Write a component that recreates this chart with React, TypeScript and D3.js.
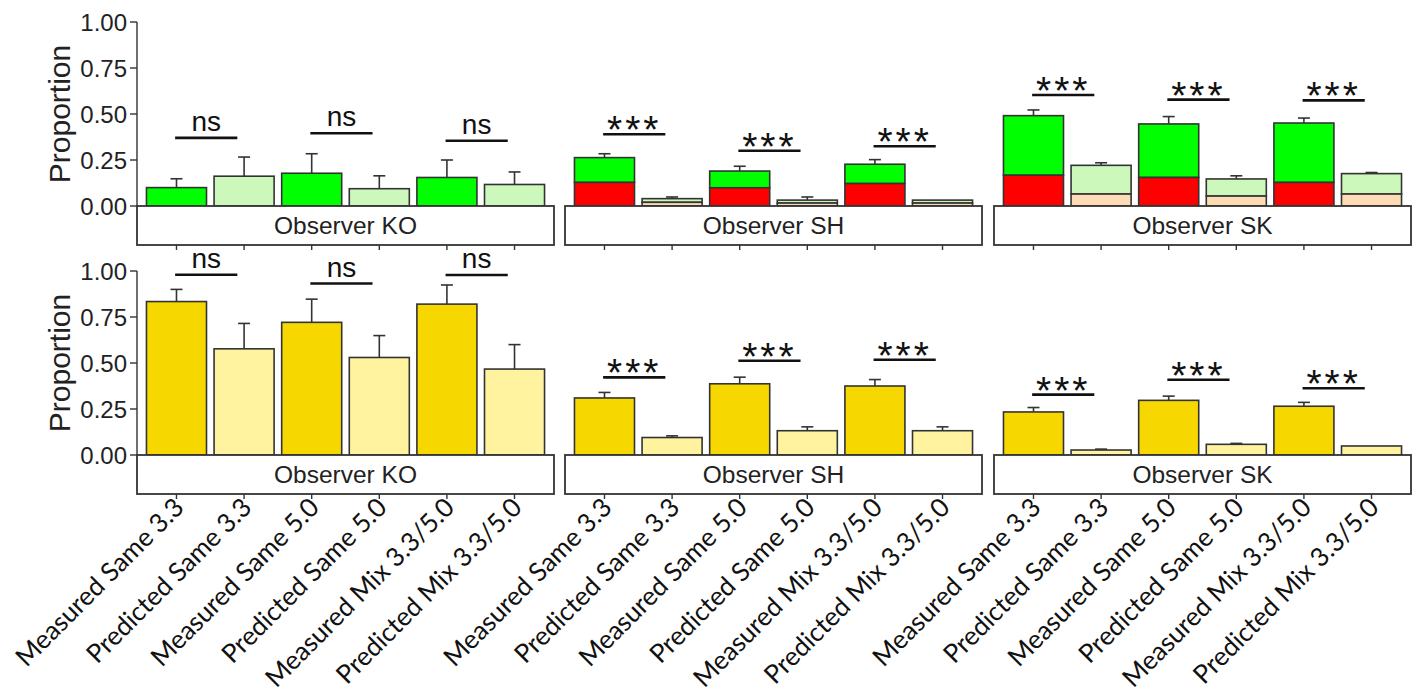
import React from "react";
import * as d3 from "d3";

const categories = [
  "Measured Same 3.3",
  "Predicted Same 3.3",
  "Measured Same 5.0",
  "Predicted Same 5.0",
  "Measured Mix 3.3/5.0",
  "Predicted Mix 3.3/5.0",
];
const observers = ["Observer KO", "Observer SH", "Observer SK"];
const yTicks = [0, 0.25, 0.5, 0.75, 1];

// Top row: stacked bars (lower segment red/peach, total green/light green)
const topLower = [
  [0, 0, 0, 0, 0, 0],
  [0.128, 0.02, 0.099, 0.016, 0.122, 0.016],
  [0.167, 0.065, 0.155, 0.054, 0.128, 0.065],
];
const topTotal = [
  [0.1, 0.162, 0.178, 0.094, 0.155, 0.117],
  [0.263, 0.04, 0.19, 0.032, 0.227, 0.032],
  [0.491, 0.221, 0.446, 0.147, 0.451, 0.176],
];
const topErr = [
  [0.148, 0.266, 0.284, 0.164, 0.25, 0.185],
  [0.284, 0.049, 0.216, 0.049, 0.252, null],
  [0.522, 0.235, 0.486, 0.164, 0.478, 0.182],
];
const topSigLabel = ["ns", "***", "***"];
const topSigY = [
  [0.37, 0.395, 0.355],
  [0.39, 0.3, 0.325],
  [0.603, 0.578, 0.574],
];

// Bottom row
const botValue = [
  [0.834, 0.577, 0.721, 0.53, 0.82, 0.467],
  [0.31, 0.095, 0.387, 0.132, 0.375, 0.132],
  [0.234, 0.027, 0.297, 0.058, 0.265, 0.049],
];
const botErr = [
  [0.9, 0.715, 0.847, 0.649, 0.924, 0.6],
  [0.34, 0.104, 0.423, 0.153, 0.41, 0.153],
  [0.258, 0.032, 0.32, 0.063, 0.286, null],
];
const botSigLabel = ["ns", "***", "***"];
const botSigY = [
  [0.98, 0.932, 0.978],
  [0.422, 0.512, 0.518],
  [0.328, 0.409, 0.363],
];

const W = 1418;
const H = 698;
const panelLefts = [137, 565, 994];
const panelWidth = 417;
const rows = [
  { y0: 206, y1: 22 },
  { y0: 455, y1: 271 },
];
const stripH = 39;
const STROKE = "#333";
const AX = "Liberation Sans, Arial, sans-serif";

export default function App() {
  const yScales = rows.map((r) =>
    d3.scaleLinear().domain([0, 1]).range([r.y0, r.y1])
  );
  const xScales = panelLefts.map((l) =>
    d3
      .scaleBand<string>()
      .domain(categories)
      .range([l, l + panelWidth])
      .paddingInner(0.112)
      .paddingOuter(0.14)
  );

  const errBar = (x: number, yTop: number, yEnd: number, key: string) => (
    <g key={key} stroke={STROKE} strokeWidth={1.6}>
      <line x1={x} x2={x} y1={yTop} y2={yEnd} />
      <line x1={x - 6} x2={x + 6} y1={yEnd} y2={yEnd} />
    </g>
  );

  const sig = (
    xs: d3.ScaleBand<string>,
    y: d3.ScaleLinear<number, number>,
    label: string,
    vals: number[],
    key: string
  ) =>
    vals.map((v, k) => {
      const c1 = xs(categories[2 * k])! + xs.bandwidth() / 2;
      const c2 = xs(categories[2 * k + 1])! + xs.bandwidth() / 2;
      const step = xs.step();
      const xa = c1 - 0.02 * step;
      const xb = c2 - 0.1 * step;
      const yy = y(v);
      const isStar = label !== "ns";
      return (
        <g key={key + k}>
          <line x1={xa} x2={xb} y1={yy} y2={yy} stroke="#111" strokeWidth={2.6} />
          <text
            x={(xa + xb) / 2}
            y={isStar ? yy + 9 : yy - 7}
            textAnchor="middle"
            fontFamily={AX}
            fontSize={isStar ? 39 : 28}
            letterSpacing={isStar ? 3 : 0}
            fill="#111"
          >
            {label}
          </text>
        </g>
      );
    });

  const strip = (p: number, r: number) => {
    const l = panelLefts[p];
    const y0 = rows[r].y0;
    const xs = xScales[p];
    return (
      <g key={`strip${p}${r}`}>
        <rect
          x={l}
          y={y0}
          width={panelWidth}
          height={stripH}
          fill="#fff"
          stroke={STROKE}
          strokeWidth={1.8}
        />
        <text
          x={l + panelWidth / 2}
          y={y0 + stripH / 2 + 8.5}
          textAnchor="middle"
          fontFamily={AX}
          fontSize={24.5}
          fill="#222"
        >
          {observers[p]}
        </text>
        {categories.map((c) => {
          const cx = xs(c)! + xs.bandwidth() / 2;
          return (
            <line
              key={c}
              x1={cx}
              x2={cx}
              y1={y0 + stripH}
              y2={y0 + stripH + 5}
              stroke={STROKE}
              strokeWidth={1.4}
            />
          );
        })}
      </g>
    );
  };

  const yAxis = (r: number) => {
    const y = yScales[r];
    const x = panelLefts[0];
    return (
      <g key={`yaxis${r}`}>
        <line x1={x} x2={x} y1={y(1)} y2={y(0)} stroke={STROKE} strokeWidth={1.4} />
        {yTicks.map((t) => (
          <g key={t}>
            <line x1={x - 7} x2={x} y1={y(t)} y2={y(t)} stroke={STROKE} strokeWidth={1.4} />
            <text
              x={x - 10}
              y={y(t) + 8.5}
              textAnchor="end"
              fontFamily={AX}
              fontSize={24}
              fill="#222"
            >
              {d3.format(".2f")(t)}
            </text>
          </g>
        ))}
        <text
          transform={`translate(${70},${(y(0) + y(1)) / 2}) rotate(-90)`}
          textAnchor="middle"
          fontFamily={AX}
          fontSize={30}
          fill="#222"
        >
          Proportion
        </text>
      </g>
    );
  };

  return (
    <svg width={W} height={H} style={{ position: "absolute", left: 0, top: 0 }}>
      <rect width={W} height={H} fill="#fff" />
      {/* top row */}
      {observers.map((o, p) => {
        const xs = xScales[p];
        const y = yScales[0];
        return (
          <g key={`top${p}`}>
            {categories.map((c, i) => {
              const x = xs(c)!;
              const w = xs.bandwidth();
              const meas = i % 2 === 0;
              const lower = topLower[p][i];
              const total = topTotal[p][i];
              const e = topErr[p][i];
              return (
                <g key={c}>
                  {e !== null && errBar(x + w / 2, y(total), y(e), "e")}
                  <rect
                    x={x}
                    y={y(total)}
                    width={w}
                    height={y(lower) - y(total)}
                    fill={meas ? "#00ff00" : "#ccf8bc"}
                    stroke={STROKE}
                    strokeWidth={1.6}
                  />
                  {lower > 0 && (
                    <rect
                      x={x}
                      y={y(lower)}
                      width={w}
                      height={y(0) - y(lower)}
                      fill={meas ? "#ff0000" : "#fddcb5"}
                      stroke={STROKE}
                      strokeWidth={1.6}
                    />
                  )}
                </g>
              );
            })}
            {sig(xs, y, topSigLabel[p], topSigY[p], `ts${p}`)}
            {strip(p, 0)}
          </g>
        );
      })}
      {/* bottom row */}
      {observers.map((o, p) => {
        const xs = xScales[p];
        const y = yScales[1];
        return (
          <g key={`bot${p}`}>
            {categories.map((c, i) => {
              const x = xs(c)!;
              const w = xs.bandwidth();
              const meas = i % 2 === 0;
              const v = botValue[p][i];
              const e = botErr[p][i];
              return (
                <g key={c}>
                  {e !== null && errBar(x + w / 2, y(v), y(e), "e")}
                  <rect
                    x={x}
                    y={y(v)}
                    width={w}
                    height={y(0) - y(v)}
                    fill={meas ? "#f6d800" : "#fff3a0"}
                    stroke={STROKE}
                    strokeWidth={1.6}
                  />
                </g>
              );
            })}
            {sig(xs, y, botSigLabel[p], botSigY[p], `bs${p}`)}
            {strip(p, 1)}
            {categories.map((c) => {
              const cx = xs(c)! + xs.bandwidth() / 2;
              const ty = rows[1].y0 + stripH + 15;
              return (
                <text
                  key={c}
                  transform={`translate(${cx + 9},${ty}) rotate(-45)`}
                  textAnchor="end"
                  fontFamily="Lato, 'Open Sans', sans-serif"
                  fontSize={26}
                  fill="#111"
                >
                  {c}
                </text>
              );
            })}
          </g>
        );
      })}
      {yAxis(0)}
      {yAxis(1)}
    </svg>
  );
}
